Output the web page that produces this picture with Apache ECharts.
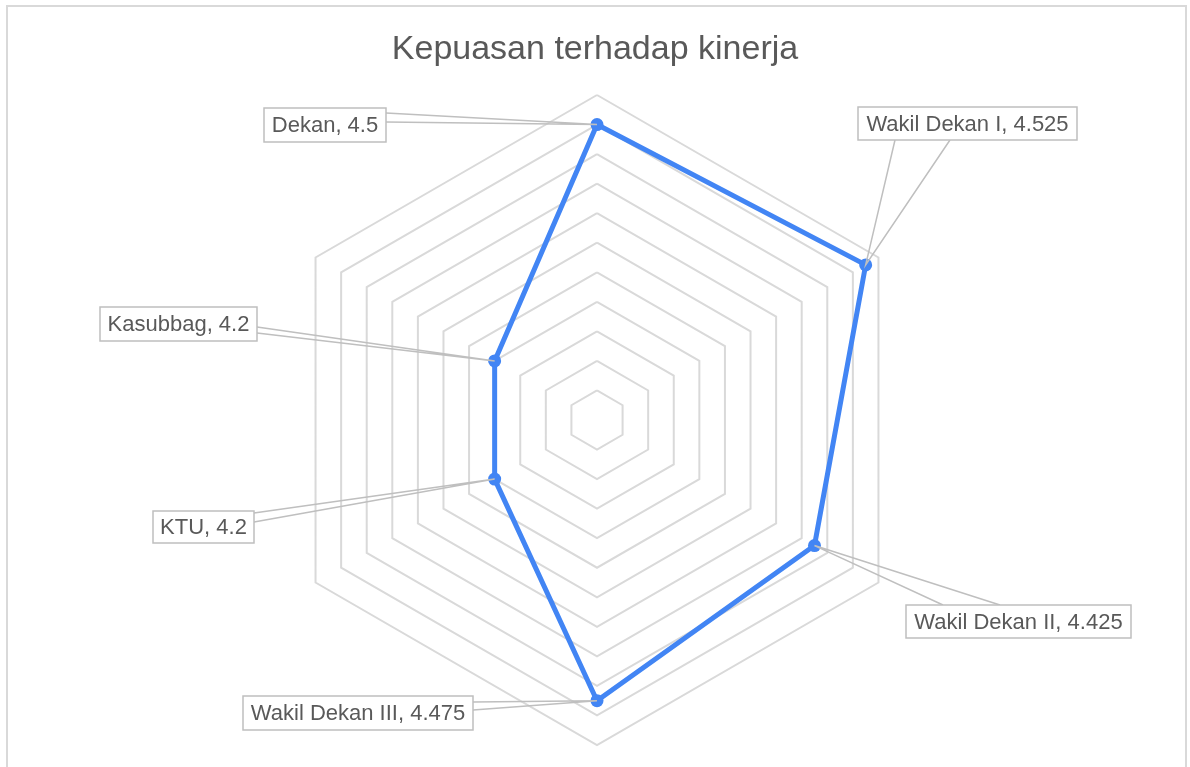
<!DOCTYPE html>
<html>
<head>
<meta charset="utf-8">
<script src="https://cdn.jsdelivr.net/npm/echarts@6/dist/echarts.min.js"></script>
<style>
html, body { margin: 0; padding: 0; background: #fff; }
#chart { width: 1190px; height: 767px; }
</style>
</head>
<body>
<div id="chart"></div>
<script>
var categories = ['Dekan', 'Wakil Dekan I', 'Wakil Dekan II', 'Wakil Dekan III', 'KTU', 'Kasubbag'];
var scores = [4.5, 4.525, 4.425, 4.475, 4.2, 4.2];
var axisMin = 4;
var axisMax = 4.55;
var rings = 11;

// callout boxes: [left, top, width, height]
var labelBoxes = [
  [264, 108, 122, 34],
  [858, 107, 219, 33],
  [906, 605, 225, 33],
  [243, 696, 230, 34],
  [153, 511, 101, 32],
  [100, 307, 157, 34]
];
// where the pointer leaves the box: edge, start, end (px along edge)
var calloutBase = [
  ['right', 5, 14],
  ['bottom', 37, 92],
  ['top', 37, 94],
  ['right', 6, 14],
  ['right', 2, 11],
  ['right', 20, 26]
];

// echarts radar runs counter-clockwise, excel clockwise
var order = [0, 5, 4, 3, 2, 1];

var chart = echarts.init(document.getElementById('chart'));
var option = {
  animation: false,
  title: {
    text: 'Kepuasan terhadap kinerja',
    left: 'center',
    top: 28,
    textStyle: {
      fontFamily: 'Liberation Sans',
      fontSize: 34,
      fontWeight: 'normal',
      color: '#595959'
    }
  },
  radar: {
    center: [597, 420],
    radius: 325,
    startAngle: 90,
    shape: 'polygon',
    splitNumber: rings,
    indicator: order.map(function (i) {
      return { name: categories[i], min: axisMin, max: axisMax };
    }),
    axisName: { show: false },
    axisLine: { show: false },
    splitArea: { show: false },
    splitLine: { lineStyle: { color: '#d9d9d9', width: 2 } }
  },
  series: [{
    type: 'radar',
    silent: true,
    symbol: 'circle',
    symbolSize: 13,
    itemStyle: { color: '#4285f4' },
    lineStyle: { color: '#4285f4', width: 5 },
    data: [{ name: 'Kepuasan', value: order.map(function (i) { return scores[i]; }) }]
  }]
};
chart.setOption(option);

// callouts with pointer, placed from the radar's own coordinates
var radar = chart.getModel().getComponent('radar').coordinateSystem;
var els = [{
  type: 'rect',
  shape: { x: 7, y: 6, width: 1179, height: 800 },
  style: { fill: 'none', stroke: '#d9d9d9', lineWidth: 2 },
  silent: true
}];
order.forEach(function (i, k) {
  var p = radar.dataToPoint(scores[i], k);
  var b = labelBoxes[i];
  var c = calloutBase[i];
  var a1, a2;
  if (c[0] === 'right') {
    a1 = [b[0] + b[2], b[1] + c[1]]; a2 = [b[0] + b[2], b[1] + c[2]];
  } else if (c[0] === 'bottom') {
    a1 = [b[0] + c[1], b[1] + b[3]]; a2 = [b[0] + c[2], b[1] + b[3]];
  } else {
    a1 = [b[0] + c[1], b[1]]; a2 = [b[0] + c[2], b[1]];
  }
  els.push({
    type: 'polyline', z: 10, silent: true,
    shape: { points: [a1, p, a2] },
    style: { fill: 'none', stroke: '#bfbfbf', lineWidth: 1.5 }
  });
  els.push({
    type: 'rect', z: 11, silent: true,
    shape: { x: b[0], y: b[1], width: b[2], height: b[3] },
    style: { fill: '#fff', stroke: '#bfbfbf', lineWidth: 1.5 }
  });
  els.push({
    type: 'text', z: 12, silent: true,
    x: b[0] + b[2] / 2, y: b[1] + b[3] / 2 + 1,
    style: {
      text: categories[i] + ', ' + scores[i],
      font: '22px "Liberation Sans"',
      fill: '#595959',
      align: 'center',
      verticalAlign: 'middle'
    }
  });
});
chart.setOption({ graphic: { elements: els } });
</script>
</body>
</html>
